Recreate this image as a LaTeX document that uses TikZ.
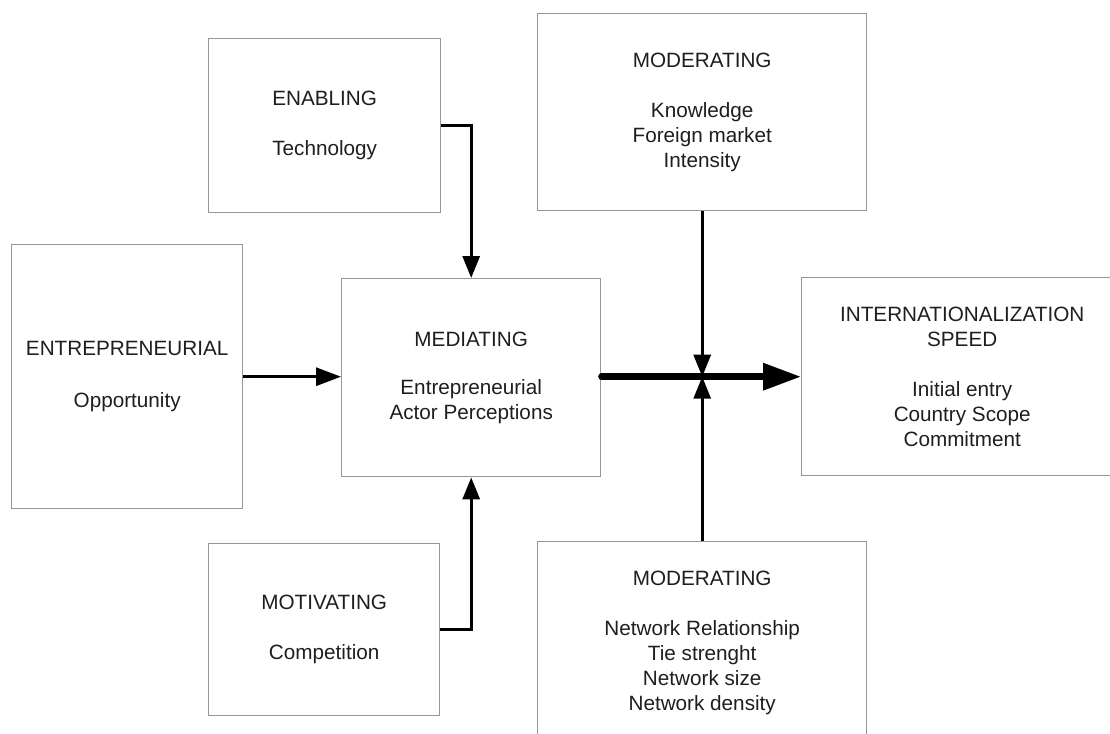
\documentclass[tikz,border=0pt]{standalone}
\usepackage{fontspec}
\setmainfont{Liberation Sans}
\usetikzlibrary{arrows.meta}
\definecolor{boxline}{RGB}{150,150,150}
\definecolor{inktext}{RGB}{30,30,30}
\begin{document}
\begin{tikzpicture}[x=1pt,y=-1pt,
  box/.style={draw=boxline, line width=1.4pt, anchor=north west, inner sep=0pt,
    align=center, text=inktext, font=\fontsize{20.7}{25}\selectfont},
  link/.style={line width=3pt, -{Triangle[length=22pt,width=17pt]}},
  mainlink/.style={line width=6.5pt, line cap=round, -{Triangle[length=38pt,width=26pt]}}]
\useasboundingbox (0,0) rectangle (1110,733);
\clip (0,0) rectangle (1110,733);

% factor boxes
\node[box, minimum width=232pt, minimum height=174pt] (enab) at (208,38)
  {ENABLING\\[25pt]Technology};
\node[box, minimum width=329pt, minimum height=197pt] (modtop) at (537,13)
  {MODERATING\\[25pt]Knowledge\\Foreign market\\Intensity};
\node[box, minimum width=231pt, minimum height=264pt] (ent) at (11,244)
  {ENTREPRENEURIAL\\[27pt]Opportunity};
\node[box, minimum width=259pt, minimum height=198pt] (med) at (341,278)
  {MEDIATING\\[23pt]Entrepreneurial\\Actor Perceptions};
\node[box, minimum width=321pt, minimum height=198pt] (intl) at (801,277)
  {INTERNATIONALIZATION\\SPEED\\[25pt]Initial entry\\Country Scope\\Commitment};
\node[box, minimum width=231pt, minimum height=172pt] (mot) at (208,543)
  {MOTIVATING\\[25pt]Competition};
\node[box, minimum width=329pt, minimum height=203pt] (modbot) at (537,541)
  {MODERATING\\[25pt]Network Relationship\\Tie strenght\\Network size\\Network density};

% connectors
\coordinate (join) at (modtop.south |- intl.west);
\draw[link, -{Triangle[length=25pt,width=18pt]}] (ent.east) -- (ent.east -| med.west);
\draw[link] (enab.east) -| (med.north);
\draw[link] (mot.east) -| (med.south);
\draw[mainlink] (med.east |- intl.west) -- (intl.west);
\draw[link] (modtop.south) -- (join);
\draw[link] (modbot.north) -- (join);
\end{tikzpicture}
\end{document}
